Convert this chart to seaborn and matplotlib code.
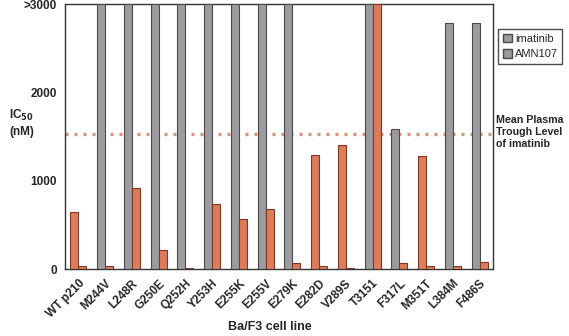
import numpy as np
import pandas as pd
import matplotlib
matplotlib.use("Agg")
import matplotlib.pyplot as plt
from matplotlib.patches import Patch
import seaborn as sns

# --- dados ---
linhas = ['WT p210', 'M244V', 'L248R', 'G250E', 'Q252H', 'Y253H', 'E255K', 'E255V',
          'E279K', 'E282D', 'V289S', 'T3151', 'F317L', 'M351T', 'L384M', 'F486S']
imatinib = [645, 3000, 3000, 3000, 3000, 3000, 3000, 3000,
            3000, 1287, 1400, 3000, 1581, 1279, 2790, 2790]
amn107 = [30, 35, 917, 215, 15, 736, 562, 676,
          64, 37, 8, 3000, 64, 34, 34, 79]
nivel_plasma = 1528

df = pd.DataFrame({
    'linha': linhas * 2,
    'ic50': imatinib + amn107,
    'droga': ['imatinib'] * len(linhas) + ['AMN107'] * len(linhas),
})

laranja = '#dd7b5b'
borda_laranja = '#7a3a26'
cinza = '#9c9ba0'
borda_cinza = '#4a4a4e'

sns.set_style('white')
plt.rcParams['font.family'] = ['Liberation Sans', 'DejaVu Sans']

fig = plt.figure(figsize=(5.69, 3.36), dpi=100)
ax = fig.add_axes([0.1142, 0.1994, 0.7522, 0.7886])

sns.barplot(data=df, x='linha', y='ic50', hue='droga', ax=ax, width=0.6,
            palette=[cinza, laranja], legend=False, zorder=3)

# imatinib: cinza quando acima do nível plasmático, laranja caso contrário
for barra, v in zip(ax.containers[0], imatinib):
    if v > nivel_plasma:
        barra.set_facecolor(cinza)
        barra.set_edgecolor(borda_cinza)
    else:
        barra.set_facecolor(laranja)
        barra.set_edgecolor(borda_laranja)
    barra.set_linewidth(0.8)
for barra in ax.containers[1]:
    barra.set_facecolor(laranja)
    barra.set_edgecolor(borda_laranja)
    barra.set_linewidth(0.8)

ax.axhline(nivel_plasma, color='#d4947c', lw=2.4, ls=(0, (0.9, 1.8)), zorder=1)

ax.set_ylim(0, 3000)
ax.set_xlim(-0.5, len(linhas) - 0.5)
ax.set_yticks([0, 1000, 2000, 3000])
ax.set_yticklabels(['0', '1000', '2000', '>3000'], fontweight='bold', fontsize=8.5)
ax.set_xticks(range(len(linhas)))
ax.set_xticklabels(linhas, rotation=45, ha='right', rotation_mode='anchor',
                   fontweight='bold', fontsize=8.5)
ax.tick_params(axis='both', length=0, pad=6)
ax.set_xlabel('')
ax.set_ylabel('')
for s in ax.spines.values():
    s.set_color('#333333')
    s.set_linewidth(1.0)

fig.text(0.038, 0.635, 'IC$_{\\mathbf{50}}$\n(nM)', ha='center', va='center',
         fontweight='bold', fontsize=8.5, linespacing=1.3)
fig.text(0.474, 0.008, 'Ba/F3 cell line', ha='center', va='bottom',
         fontweight='bold', fontsize=9)
fig.text(0.872, 0.607, 'Mean Plasma\nTrough Level\nof imatinib', ha='left', va='center',
         fontweight='bold', fontsize=7.7, linespacing=1.3)

handles = [Patch(facecolor=cinza, edgecolor=borda_cinza, label='imatinib'),
           Patch(facecolor=cinza, edgecolor=borda_cinza, label='AMN107')]
leg = fig.legend(handles=handles, loc='upper left', bbox_to_anchor=(0.866, 0.93),
                 fontsize=8, frameon=True, fancybox=False, handlelength=0.8,
                 handleheight=0.8, handletextpad=0.3, borderpad=0.4, labelspacing=0.5)
leg.get_frame().set_edgecolor('#222222')
leg.get_frame().set_linewidth(1.0)

plt.savefig('out.png', dpi=100)
